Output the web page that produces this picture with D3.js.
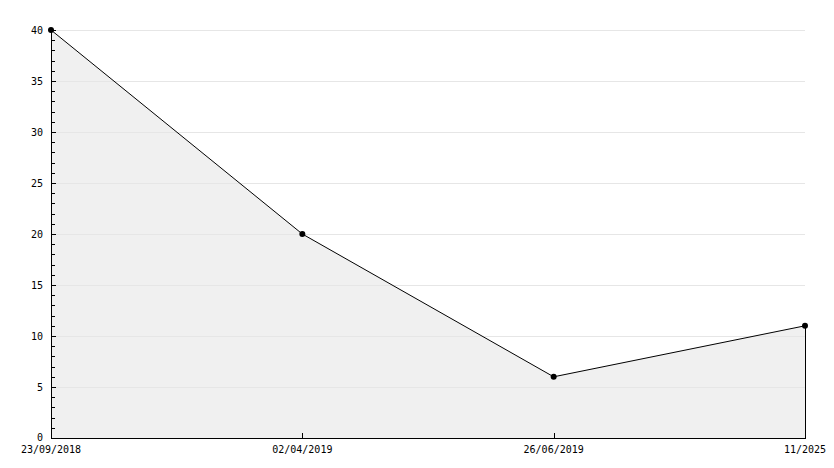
<!DOCTYPE html>
<html>
<head>
<meta charset="utf-8">
<script src="https://cdn.jsdelivr.net/npm/d3@7"></script>
<style>
  body { margin: 0; background: #fff; }
  text { font-family: "DejaVu Sans Mono", monospace; font-size: 10px; fill: #000; }
</style>
</head>
<body>
<div id="chart"></div>
<script>
const categories = ["23/09/2018", "02/04/2019", "26/06/2019", "11/2025"];
const values = [40, 20, 6, 11];
const yTicks = [0, 5, 10, 15, 20, 25, 30, 35, 40];

const width = 834, height = 468;
const margin = { top: 30, right: 29, bottom: 30, left: 51 };

const svg = d3.select("#chart").append("svg")
  .attr("width", width)
  .attr("height", height);

const x = d3.scalePoint()
  .domain(categories)
  .range([margin.left, width - margin.right]);

const y = d3.scaleLinear()
  .domain([0, 40])
  .range([height - margin.bottom, margin.top]);

const data = categories.map((c, i) => ({ c, v: values[i] }));

// grid
svg.append("g")
  .selectAll("line")
  .data(yTicks.filter(d => d > 0))
  .enter().append("line")
  .attr("x1", margin.left).attr("x2", width - margin.right)
  .attr("y1", d => Math.round(y(d)) + 0.5).attr("y2", d => Math.round(y(d)) + 0.5)
  .attr("stroke", "#dcdcdc");

// area
svg.append("path")
  .datum(data)
  .attr("fill", "#f0f0f0")
  .attr("d", d3.area().x(d => x(d.c)).y0(y(0)).y1(d => y(d.v)));

// grid over area (faint)
svg.append("g")
  .selectAll("line")
  .data(yTicks.filter(d => d > 0))
  .enter().append("line")
  .attr("x1", margin.left).attr("x2", width - margin.right)
  .attr("y1", d => Math.round(y(d)) + 0.5).attr("y2", d => Math.round(y(d)) + 0.5)
  .attr("stroke", "#e6e6e6");

// right edge of area
svg.append("line")
  .attr("x1", x(categories[3]) + 0.5).attr("x2", x(categories[3]) + 0.5)
  .attr("y1", y(values[3])).attr("y2", y(0))
  .attr("stroke", "#000");

// line
svg.append("path")
  .datum(data)
  .attr("fill", "none")
  .attr("stroke", "#000")
  .attr("stroke-width", 1)
  .attr("d", d3.line().x(d => x(d.c)).y(d => y(d.v)));

// markers
svg.append("g")
  .selectAll("circle")
  .data(data)
  .enter().append("circle")
  .attr("cx", d => x(d.c))
  .attr("cy", d => y(d.v))
  .attr("r", 3)
  .attr("fill", "#000");

// y axis
const yAxis = svg.append("g");
yAxis.append("line")
  .attr("x1", margin.left + 0.5).attr("x2", margin.left + 0.5)
  .attr("y1", y(40)).attr("y2", y(0))
  .attr("stroke", "#000");
const minor = d3.range(0, 41);
yAxis.selectAll(".tk")
  .data(minor)
  .enter().append("line")
  .attr("x1", margin.left)
  .attr("x2", d => margin.left + (d % 5 === 0 ? 5 : 4))
  .attr("y1", d => Math.round(y(d)) + 0.5).attr("y2", d => Math.round(y(d)) + 0.5)
  .attr("stroke", "#000");
yAxis.selectAll("text")
  .data(yTicks)
  .enter().append("text")
  .attr("x", margin.left - 8)
  .attr("y", d => y(d) + (d === 0 ? -1 : 0))
  .attr("dy", "0.35em")
  .attr("text-anchor", "end")
  .text(d => d);

// x axis
const xAxis = svg.append("g");
xAxis.append("line")
  .attr("x1", margin.left).attr("x2", width - margin.right + 1)
  .attr("y1", y(0) + 0.5).attr("y2", y(0) + 0.5)
  .attr("stroke", "#000");
xAxis.selectAll(".tk")
  .data(categories)
  .enter().append("line")
  .attr("x1", d => Math.round(x(d)) + 0.5).attr("x2", d => Math.round(x(d)) + 0.5)
  .attr("y1", y(0)).attr("y2", y(0) - 5)
  .attr("stroke", "#000");
xAxis.selectAll("text")
  .data(categories)
  .enter().append("text")
  .attr("x", d => x(d))
  .attr("y", y(0) + 15)
  .attr("text-anchor", "middle")
  .text(d => d);
</script>
</body>
</html>
